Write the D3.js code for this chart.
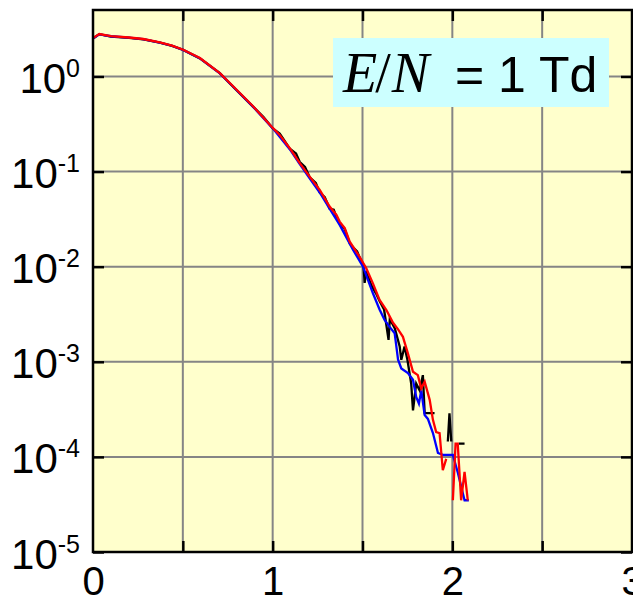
<!DOCTYPE html>
<html>
<head>
<meta charset="utf-8">
<script src="https://cdn.jsdelivr.net/npm/d3@7"></script>
<style>
  body { margin: 0; background: #ffffff; }
  svg { display: block; }
</style>
</head>
<body>
<svg id="chart" width="633" height="599"></svg>
<script>
// Electron energy distribution function at E/N = 1 Td, three calculations.
// Energy in eV, EEDF in eV^-3/2. null marks empty bins (zero counts).

const energyBlack = [0.000, 0.035, 0.10, 0.20, 0.28, 0.372, 0.44, 0.502, 0.595, 0.706, 0.781, 0.892, 0.95, 1.002, 1.039, 1.06, 1.095, 1.13, 1.151, 1.18, 1.206, 1.24, 1.262, 1.29, 1.317, 1.34, 1.355, 1.373, 1.40, 1.43, 1.45, 1.47, 1.49, 1.505, 1.512, 1.52, 1.55, 1.575, 1.595, 1.62, 1.645, 1.652, 1.68, 1.707, 1.716, 1.734, 1.75, 1.771, 1.781, 1.799, 1.818, 1.836, 1.846, 1.901, 1.93, 1.975, 1.984, 1.994, 2.015, 2.036, 2.068];
const eedfBlack = [2.512, 2.786, 2.630, 2.541, 2.455, 2.265, 2.099, 1.905, 1.549, 1.084, 0.776, 0.479, 0.372, 0.282, 0.251, 0.219, 0.174, 0.155, 0.126, 0.112, 0.0871, 0.0759, 0.0603, 0.0537, 0.0407, 0.0398, 0.0331, 0.0282, 0.0251, 0.0174, 0.0158, 0.0145, 0.0117, 0.0105, 0.00676, 0.00891, 0.00631, 0.00525, 0.00437, 0.00355, 0.00170, 0.00282, 0.00224, 0.00145, 0.00105, 0.00145, 0.00105, 0.000589, 0.000309, 0.000589, 0.000501, 0.000724, 0.000288, 0.000288, null, 0.000145, 0.000288, 0.000145, null, 0.000138, 0.000138];

const energyBlue = [0.000, 0.035, 0.10, 0.20, 0.28, 0.372, 0.44, 0.502, 0.595, 0.706, 0.781, 0.892, 1.002, 1.095, 1.151, 1.206, 1.262, 1.317, 1.373, 1.447, 1.503, 1.558, 1.595, 1.623, 1.65, 1.679, 1.698, 1.716, 1.753, 1.781, 1.799, 1.814, 1.827, 1.846, 1.864, 1.892, 1.92, 1.947, 2.003, 2.031, 2.068, 2.092];
const eedfBlue = [2.512, 2.773, 2.649, 2.559, 2.466, 2.270, 2.104, 1.901, 1.556, 1.079, 0.780, 0.479, 0.283, 0.172, 0.120, 0.0851, 0.0603, 0.0407, 0.0275, 0.0151, 0.0100, 0.00525, 0.00355, 0.00275, 0.00234, 0.00200, 0.00105, 0.000851, 0.000759, 0.000646, 0.000427, 0.000363, 0.000501, 0.000275, 0.000251, 0.000178, 0.000110, 0.000105, 0.000105, 0.0000676, 0.000035, 0.000035];

const energyRed = [0.000, 0.035, 0.10, 0.20, 0.28, 0.372, 0.44, 0.502, 0.595, 0.706, 0.781, 0.892, 1.002, 1.039, 1.095, 1.151, 1.206, 1.262, 1.317, 1.355, 1.373, 1.401, 1.429, 1.484, 1.521, 1.558, 1.595, 1.633, 1.67, 1.698, 1.725, 1.753, 1.781, 1.808, 1.827, 1.846, 1.874, 1.892, 1.910, 1.929, 1.947, 1.966, 1.985, 2.003, 2.018, 2.030, 2.049, 2.068, 2.086];
const eedfRed = [2.535, 2.793, 2.661, 2.570, 2.477, 2.280, 2.113, 1.910, 1.563, 1.086, 0.785, 0.483, 0.286, 0.243, 0.176, 0.1225, 0.0885, 0.0641, 0.0429, 0.0350, 0.0298, 0.0254, 0.0183, 0.0127, 0.00962, 0.00668, 0.00447, 0.00350, 0.00257, 0.00219, 0.00183, 0.00122, 0.000785, 0.000724, 0.000525, 0.000617, 0.000398, 0.000245, 0.000182, 0.000178, 0.0000724, 0.0000955, null, 0.000035, 0.000138, 0.000138, 0.000035, 0.0000695, 0.000035];

const xLabelTicks = [0, 1, 2, 3];
const xGridTicks = [0.5, 1, 1.5, 2, 2.5];
const yTickExponents = [0, -1, -2, -3, -4, -5];
const seriesColors = ["#000000", "#0000ff", "#ff0000"];
const annotation = { lhs: ["E", "/", "N"], rhs: "= 1 Td" };

const svg = d3.select("#chart");
const plotLeft = 93, plotRight = 632, plotTop = 10, plotBottom = 552;

const x = d3.scaleLinear().domain([0, 3]).range([plotLeft, plotRight]);
const y = d3.scaleLog().domain([1e-5, 5]).range([plotBottom, plotTop]);
const yTicks = yTickExponents.map(e => Math.pow(10, e));

// plot background
svg.append("rect")
  .attr("x", plotLeft).attr("y", plotTop)
  .attr("width", plotRight - plotLeft).attr("height", plotBottom - plotTop)
  .attr("fill", "#ffffcc");

// grid
const grid = svg.append("g").attr("stroke", "#858585").attr("stroke-width", 2);
grid.selectAll("line.v").data(xGridTicks).join("line")
  .attr("class", "v")
  .attr("x1", d => x(d)).attr("x2", d => x(d))
  .attr("y1", plotTop).attr("y2", plotBottom);
grid.selectAll("line.h").data(yTicks.filter(v => v > 1e-5)).join("line")
  .attr("class", "h")
  .attr("x1", plotLeft).attr("x2", plotRight)
  .attr("y1", d => y(d)).attr("y2", d => y(d));

// inward tick marks on all four sides
function tickStyle(g) {
  g.select(".domain").remove();
  g.selectAll(".tick line").attr("stroke", "#000").attr("stroke-width", 2.5);
  g.selectAll(".tick text").remove();
}
svg.append("g").attr("transform", `translate(0,${plotBottom})`)
  .call(d3.axisBottom(x).tickValues(xGridTicks).tickSize(-11)).call(tickStyle);
svg.append("g").attr("transform", `translate(0,${plotTop})`)
  .call(d3.axisTop(x).tickValues(xGridTicks).tickSize(-11)).call(tickStyle);
svg.append("g").attr("transform", `translate(${plotLeft},0)`)
  .call(d3.axisLeft(y).tickValues(yTicks).tickSize(-11)).call(tickStyle);
svg.append("g").attr("transform", `translate(${plotRight},0)`)
  .call(d3.axisRight(y).tickValues(yTicks).tickSize(-11)).call(tickStyle);

// curves
svg.append("clipPath").attr("id", "plotclip")
  .append("rect").attr("x", plotLeft).attr("y", plotTop)
  .attr("width", plotRight - plotLeft).attr("height", plotBottom - plotTop);

const series = [
  { e: energyBlack, f: eedfBlack },
  { e: energyBlue, f: eedfBlue },
  { e: energyRed, f: eedfRed }
];
const line = d3.line()
  .defined(d => d[1] !== null)
  .x(d => x(d[0]))
  .y(d => y(d[1]));

svg.append("g").attr("clip-path", "url(#plotclip)")
  .selectAll("path").data(series).join("path")
  .attr("d", s => line(s.e.map((v, i) => [v, s.f[i]])))
  .attr("fill", "none")
  .attr("stroke", (s, i) => seriesColors[i])
  .attr("stroke-width", 2.3)
  .attr("stroke-linejoin", "miter");

// frame
svg.append("rect")
  .attr("x", plotLeft).attr("y", plotTop)
  .attr("width", plotRight - plotLeft).attr("height", plotBottom - plotTop)
  .attr("fill", "none").attr("stroke", "#000").attr("stroke-width", 2.5);

// annotation box
svg.append("rect")
  .attr("x", 333).attr("y", 38).attr("width", 276).attr("height", 69)
  .attr("fill", "#ccffff");
const serif = "'Liberation Serif', 'DejaVu Serif', serif";
const ann = svg.append("text").attr("x", 343).attr("y", 92).attr("fill", "#000")
  .attr("font-family", serif).attr("font-size", 56);
ann.append("tspan").attr("font-style", "italic").text(annotation.lhs[0]);
ann.append("tspan").attr("dx", -2).text(annotation.lhs[1]);
ann.append("tspan").attr("font-style", "italic").attr("dx", 1).text(annotation.lhs[2]);
svg.append("text").attr("x", 455).attr("y", 92).attr("fill", "#000")
  .attr("font-family", "'Liberation Sans', Arial, sans-serif")
  .attr("font-size", 50).text(annotation.rhs);

// x tick labels
const xLab = svg.append("g").attr("transform", `translate(0,${plotBottom})`)
  .call(d3.axisBottom(x).tickValues(xLabelTicks).tickSize(0).tickFormat(d3.format("d")));
xLab.select(".domain").remove();
xLab.selectAll(".tick text")
  .attr("font-family", "'Liberation Sans', Arial, sans-serif")
  .attr("font-size", 40).attr("fill", "#000")
  .attr("dy", null).attr("y", 43);

// y tick labels: 10 with superscript exponent
const yLab = svg.append("g").attr("transform", `translate(${plotLeft},0)`)
  .call(d3.axisLeft(y).tickValues(yTicks).tickSize(0).tickFormat(() => ""));
yLab.select(".domain").remove();
yLab.selectAll(".tick text")
  .attr("font-family", "'Liberation Sans', Arial, sans-serif")
  .attr("fill", "#000")
  .attr("x", -13).attr("dy", null).attr("y", 16)
  .each(function (d) {
    const t = d3.select(this);
    const exp = Math.round(Math.log10(d));
    t.append("tspan").attr("font-size", 42).text("10");
    t.append("tspan").attr("font-size", 25).attr("dy", -16).text(String(exp));
  });
</script>
</body>
</html>
